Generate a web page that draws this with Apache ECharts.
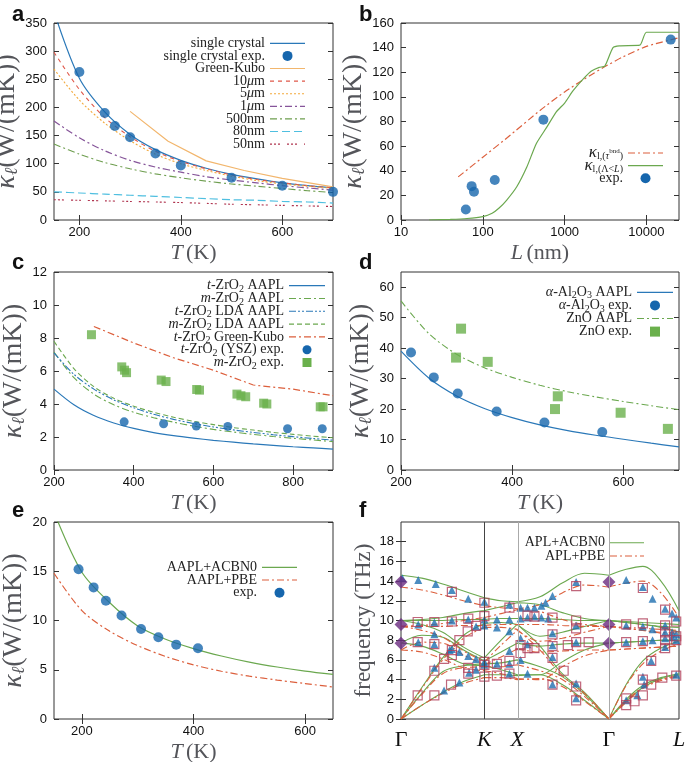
<!DOCTYPE html>
<html><head><meta charset="utf-8">
<script src="https://cdn.jsdelivr.net/npm/echarts@6/dist/echarts.min.js"></script>
<style>html,body{margin:0;padding:0;background:#fff}#c{width:685px;height:762px}</style>
</head><body><div id="c"></div>
<script>
// ---------- Panel a ----------
const aT = [150,200,250,300,350,400,450,500,550,600,650,700];
const aSingle = [370,252,192,152,125,106,92,81,73,66,61,57];
const aUm10  = [298,232,182,148,122,104,91,80,72,66,61,57];
const aUm5   = [268,213,172,141,117,100,88,78,70,64,60,56];
const aUm1   = [176,146,123,106,94,85,77,71,66,61,57,53];
const aNm500 = [135,117,102,91,82,75,69,64,60,56,52,49];
const aNm80  = [50,48,46,44,42,40,38,36,35,33,32,30];
const aNm50  = [36,35,34,33,32,31,29.5,28,27,26,25,24];
const aGkT = [300,375,450,525,600,700];
const aGk  = [193,140,105,88,74,59];
const aExpT = [200,250,270,300,350,400,500,600,700];
const aExp  = [263,190,167,147,118,97,75,61,50];
const aXTicks = [200,400,600];
const aYTicks = [0,50,100,150,200,250,300,350];
// ---------- Panel b ----------
const bGreenL = [22,40,64,100,130,157,195,260,345,450,600,795,1000,1270,1770,2130,2650,3100,3900,4660,8300,10000,25000];
const bGreen  = [0,0.5,1.2,2.8,5.5,9.5,16,27,43,62,75,88,95,105,116,121,124,125,140,141.5,142,152.5,152.5];
const bRedL = [50,100,200,500,1000,2000,3000,5000,10000,25000];
const bRed  = [35,51,67,89,104,117,124,132,141,148];
const bExpL = [62,73,78,140,550,19800];
const bExp  = [8.5,27.5,23,32.5,81.5,146.5];
const bXTicks = [10,100,1000,10000];
const bYTicks = [0,20,40,60,80,100,120,140,160];
// ---------- Panel c ----------
const cT = [200,250,300,350,400,450,500,550,600,650,700,750,800,850,900];
const cTAapl = [4.9,3.95,3.3,2.85,2.52,2.27,2.08,1.93,1.80,1.69,1.58,1.49,1.41,1.34,1.27];
const cMAapl = [7.15,5.6,4.6,3.95,3.5,3.17,2.9,2.66,2.46,2.3,2.16,2.03,1.92,1.82,1.72];
const cTLda  = [7.1,5.8,4.9,4.25,3.77,3.38,3.07,2.82,2.61,2.43,2.28,2.14,2.02,1.91,1.81];
const cMLda  = [7.8,6.15,5.05,4.35,3.87,3.5,3.2,2.95,2.75,2.57,2.42,2.28,2.16,2.05,1.95];
const cGkT = [300,400,500,600,700,800,900];
const cGk  = [8.7,7.7,6.8,6.05,5.15,4.9,4.5];
const cTExpT = [376,475,557,636,786,873];
const cTExp  = [2.92,2.8,2.66,2.64,2.5,2.5];
const cMExpT = [294,370,377,382,469,481,558,565,659,669,681,726,734,868,875];
const cMExp  = [8.2,6.25,6.05,5.9,5.45,5.36,4.88,4.84,4.6,4.5,4.44,4.05,4.0,3.83,3.83];
const cXTicks = [200,400,600,800];
const cYTicks = [0,2,4,6,8,10,12];
// ---------- Panel d ----------
const dT = [200,250,300,350,400,450,500,550,600,650,700];
const dAl = [39,30.2,24.3,20.2,17.2,14.8,12.9,11.4,10.1,8.8,7.6];
const dZn = [55.5,44.8,38,33.6,30.4,27.8,25.7,24,22.5,21.1,19.8];
const dAlExpT = [218,259,302,372,458,562];
const dAlExp  = [38.6,30.4,25.1,19.2,15.6,12.5];
const dZnExpT = [299,308,356,477,482,595,680];
const dZnExp  = [36.9,46.4,35.5,20.0,24.2,18.8,13.5];
const dXTicks = [200,400,600];
const dYTicks = [0,10,20,30,40,50,60];
// ---------- Panel e ----------
const eT = [150,200,250,300,350,400,450,500,550,600,650];
const eAcbn0 = [21,14.9,11.8,9.45,8.1,7.15,6.4,5.78,5.28,4.87,4.53];
const ePbe   = [14.8,11.0,8.9,7.45,6.35,5.5,4.85,4.35,3.95,3.6,3.25];
const eExpT = [194,221,243,271,306,337,369,408];
const eExp  = [15.2,13.36,12.0,10.5,9.14,8.3,7.55,7.18];
const eXTicks = [200,400,600];
const eYTicks = [0,5,10,15,20];
// ---------- Panel f ----------
const fPathPos = [0,0.30,0.418,0.748,1.0];
const fPathLab = ['Γ','K','X','Γ','L'];
const fX = [0,0.075,0.15,0.225,0.30,0.36,0.418,0.5,0.58,0.66,0.748,0.81,0.87,0.935,1.0];
const fAcbn0 = [
 [0,1.4,2.7,3.8,4.5,4.5,4.4,4.5,3.5,1.9,0,1.8,3.2,4.1,4.5],
 [0,2.6,4.8,5.4,5.6,5.7,6.0,5.3,4.3,2.5,0,2.0,3.4,4.2,4.6],
 [0,3.2,6.2,8.5,9.7,9.8,9.6,7.4,4.6,2.7,0,3.5,5.9,7.2,7.9],
 [7.7,7.4,6.6,5.6,5.4,5.0,4.5,4.5,5.8,7.0,7.7,7.8,7.9,8.0,8.0],
 [7.7,8.5,8.3,7.0,5.9,6.8,7.7,7.4,7.6,7.7,7.7,7.8,7.9,8.0,8.0],
 [10.0,9.6,8.8,7.3,6.2,8.0,9.6,8.4,8.8,9.4,10.0,9.8,9.6,9.3,8.8],
 [10.0,10.0,10.0,10.1,10.1,10.2,10.2,10.2,10.1,10.0,10.0,9.8,9.6,9.4,9.3],
 [10.0,10.1,10.3,10.7,11.0,11.4,11.8,11.6,10.8,10.2,10.0,9.9,9.8,9.7,9.6],
 [14.6,14.3,13.7,13.0,12.3,12.0,11.9,12.4,13.8,14.8,14.6,15.2,15.5,14.0,11.0]
];
const fPbe = [
 [0,1.4,2.6,3.6,4.2,4.2,4.0,4.1,3.3,1.8,0,1.7,3.1,3.9,4.3],
 [0,2.5,4.6,5.2,5.3,5.3,5.5,4.9,4.0,2.3,0,1.9,3.2,4.0,4.4],
 [0,3.1,6.0,8.2,9.3,9.3,9.1,7.0,4.4,2.6,0,3.4,5.6,6.9,7.6],
 [7.0,6.8,6.1,5.2,4.9,4.6,4.1,4.0,5.3,6.4,7.0,7.1,7.2,7.3,7.4],
 [7.0,7.8,7.7,6.5,5.5,6.3,7.1,6.8,6.9,7.0,7.0,7.1,7.2,7.3,7.4],
 [9.4,9.0,8.3,6.9,5.8,7.5,9.0,7.9,8.2,8.8,9.4,9.2,9.0,8.7,8.3],
 [9.4,9.4,9.4,9.5,9.5,9.6,9.6,9.6,9.5,9.4,9.4,9.2,9.0,8.8,8.7],
 [9.4,9.5,9.7,10.0,10.3,10.7,11.1,10.9,10.1,9.6,9.4,9.3,9.2,9.1,9.0],
 [13.4,13.1,12.6,12.0,11.5,11.3,11.2,11.6,12.8,13.6,13.4,13.8,14.0,12.8,10.3]
];
const fTri = [[0.005,14.3],[0.062,14.1],[0.125,13.7],[0.183,13.1],[0.242,12.2],[0.30,11.9],
 [0.062,9.6],[0.12,9.8],[0.183,10.0],[0.242,10.1],[0.30,10.1],[0.30,9.5],[0.27,9.4],
 [0.062,7.8],[0.12,8.6],[0.12,7.6],[0.175,7.0],[0.21,6.8],[0.242,6.4],[0.27,6.1],[0.30,5.8],[0.30,5.5],
 [0.12,5.2],[0.183,7.1],[0.27,5.0],[0.245,4.7],[0.155,2.9],[0.21,3.7],
 [0.345,10.1],[0.345,9.3],[0.345,5.6],[0.39,11.6],[0.39,10.1],[0.39,8.9],[0.39,6.9],[0.39,5.6],[0.39,4.6],
 [0.43,11.3],[0.455,11.3],[0.48,11.3],[0.505,11.5],[0.52,11.8],[0.43,10.2],[0.455,10.3],[0.48,10.4],[0.505,10.3],[0.53,10.2],
 [0.43,8.2],[0.43,6.0],[0.455,7.6],[0.455,4.6],[0.545,12.5],[0.545,8.7],[0.545,7.5],[0.545,6.3],[0.545,3.5],
 [0.63,3.6],[0.63,2.1],[0.63,9.5],[0.63,7.8],[0.63,13.9],
 [0.81,14.1],[0.87,13.4],[0.905,12.2],[0.81,9.5],[0.87,9.4],[0.905,9.1],[0.81,7.8],[0.87,7.9],[0.905,8.0],
 [0.81,1.9],[0.85,2.4],[0.87,4.3],[0.9,5.9],[0.875,3.5],[0.95,11.2],[0.975,10.7],[0.99,10.3],[0.95,9.5],
 [0.95,8.8],[0.975,8.8],[0.99,8.6],[0.95,8.2],[0.975,8.3],[0.99,8.0],[0.95,7.3],[0.99,4.5]];
const fSq = [[0.06,2.4],[0.12,4.9],[0.155,6.1],[0.183,7.0],[0.21,8.0],[0.24,8.9],[0.27,9.45],[0.30,10.45],
 [0.06,9.85],[0.12,9.85],[0.183,9.9],[0.242,10.2],[0.06,7.8],[0.12,7.6],[0.183,6.5],[0.242,5.2],[0.242,4.6],
 [0.30,5.5],[0.30,5.8],[0.30,4.3],[0.12,2.4],[0.18,3.5],[0.183,12.9],[0.30,11.8],
 [0.345,5.6],[0.345,4.4],[0.39,11.3],[0.39,5.9],[0.39,4.6],
 [0.43,7.5],[0.43,6.7],[0.455,7.2],[0.455,10.5],[0.48,7.2],[0.48,10.4],[0.545,10.3],[0.545,8.6],[0.545,7.4],
 [0.545,6.2],[0.545,3.5],[0.585,4.9],[0.6,7.5],[0.63,13.5],[0.63,10.0],[0.63,9.2],[0.63,7.8],[0.63,3.3],[0.63,1.9],[0.675,7.8],
 [0.81,9.6],[0.87,9.7],[0.81,7.8],[0.87,7.9],[0.87,13.3],[0.81,2.1],[0.81,1.4],[0.84,1.8],[0.87,2.4],[0.87,4.0],
 [0.9,3.5],[0.9,5.9],[0.94,4.2],[0.95,7.2],[0.95,8.0],[0.95,8.8],[0.95,9.5],[0.95,11.1],[0.99,8.0],[0.99,8.4],[0.99,9.9],[0.99,4.4]];
const fDia = [[0,13.9],[0,9.6],[0,7.7],[0.748,13.9],[0.748,9.6],[0.748,7.7]];
const fYTicks = [0,2,4,6,8,10,12,14,16,18];

// ---------- styling / layout ----------
const SERIF = '"Liberation Serif","DejaVu Serif",serif';
const SANS = '"Liberation Sans",Arial,Helvetica,sans-serif';
const BLUE='#2a78b8', BLUED='#1666ad', GREEN='#6ba84f', RED='#dc5f3c', SQG='#6ab04c';
const grids = [
 {left:54, top:23, width:279, height:197},
 {left:401, top:23, width:278, height:197},
 {left:54, top:272, width:279, height:198},
 {left:401, top:272, width:278, height:198},
 {left:54, top:522, width:279, height:197},
 {left:401, top:522, width:278, height:197}
].map(g=>Object.assign({show:true, borderColor:'#333', borderWidth:1, backgroundColor:'transparent', containLabel:false, outerBoundsMode:'none'}, g));

const NAMERICH = {
 k:{fontFamily:SERIF, fontSize:28, fontStyle:'italic'},
 l:{fontFamily:SERIF, fontSize:18, fontStyle:'italic', padding:[11,0,0,0]},
 n:{fontFamily:SERIF, fontSize:28},
 i:{fontFamily:SERIF, fontSize:22, fontStyle:'italic'},
 r:{fontFamily:SERIF, fontSize:22},
 fq:{fontFamily:SERIF, fontSize:23}
};
const KNAME = '{k|κ}{l|ℓ}{n|(W/(mK))}';

const xAxes=[], yAxes=[];
function addAxes(gi, xo, yo){
 const tick = {inside:true, length:5, lineStyle:{color:'#333', width:1}};
 const lab = {color:'#111', fontFamily:SANS, fontSize:13};
 const xb = Object.assign({gridIndex:gi, position:'bottom', splitLine:{show:false}, axisLine:{show:false},
   axisTick:Object.assign({}, tick, {customValues:xo.ticks, show:xo.showTick!==false}),
   axisLabel:Object.assign({}, lab, {customValues:xo.ticks, margin:6}, xo.label||{}),
   nameLocation:'middle', nameGap:xo.nameGap||22, nameTextStyle:{rich:NAMERICH}}, xo.base);
 const xt = Object.assign({}, xb, {position:'top', axisLabel:{show:false}, name:'', axisTick:Object.assign({}, tick, {customValues:xo.ticks, show:xo.showTick!==false})});
 xAxes.push(xb, xt);
 const yb = Object.assign({gridIndex:gi, position:'left', splitLine:{show:false}, axisLine:{show:false},
   axisTick:Object.assign({}, tick, {customValues:yo.ticks}),
   axisLabel:Object.assign({}, lab, {customValues:yo.ticks, margin:7}),
   nameLocation:'middle', nameGap:yo.nameGap||24, nameRotate:90, nameTextStyle:{rich:NAMERICH}}, yo.base);
 const yt = Object.assign({}, yb, {position:'right', axisLabel:{show:false}, name:''});
 yAxes.push(yb, yt);
}
addAxes(0, {ticks:aXTicks, base:{type:'value', min:150, max:700, name:'{i|T} {r|(K)}'}}, {ticks:aYTicks, base:{type:'value', min:0, max:350, name:KNAME}, nameGap:24});
addAxes(1, {ticks:bXTicks, base:{type:'log', logBase:10, min:10, max:25000, name:'{i|L} {r|(nm)}'}, label:{formatter:v=>String(Math.round(v))}}, {ticks:bYTicks, base:{type:'value', min:0, max:160, name:KNAME}, nameGap:24});
addAxes(2, {ticks:cXTicks, base:{type:'value', min:200, max:900, name:'{i|T} {r|(K)}'}}, {ticks:cYTicks, base:{type:'value', min:0, max:12, name:KNAME}, nameGap:23});
addAxes(3, {ticks:dXTicks, base:{type:'value', min:200, max:700, name:'{i|T} {r|(K)}'}}, {ticks:dYTicks, base:{type:'value', min:0, max:65, name:KNAME}, nameGap:23});
addAxes(4, {ticks:eXTicks, base:{type:'value', min:150, max:650, name:'{i|T} {r|(K)}'}}, {ticks:eYTicks, base:{type:'value', min:0, max:20, name:KNAME}, nameGap:23});
addAxes(5, {ticks:fPathPos, showTick:false, base:{type:'value', min:0, max:1},
   label:{margin:10, formatter:v=>{const i=fPathPos.findIndex(p=>Math.abs(p-v)<1e-6); const t=fPathLab[i]||''; return t==='Γ'?'{g|Γ}':'{it|'+t+'}';},
     rich:{g:{fontFamily:SERIF, fontSize:22, color:'#111'}, it:{fontFamily:SERIF, fontSize:22, fontStyle:'italic', color:'#111'}}}},
   {ticks:fYTicks, base:{type:'value', min:0, max:20, name:'{fq|frequency (THz)}'}, nameGap:25});

const series=[];
const KEY = {};
function zip(xs, ys){ return xs.map((x,i)=>[x, ys[i]]); }
function line(name, p, xs, ys, color, type, width, smooth){
 KEY[name] = {kind:'line', color, dash: Array.isArray(type)?type:null, width:width||1.2};
 series.push({name, type:'line', xAxisIndex:2*p, yAxisIndex:2*p, data:zip(xs,ys), symbol:'none', showSymbol:false,
   smooth: smooth===undefined?0.3:smooth, clip:true,
   lineStyle:{color, width:width||1.2, type:type||'solid'}, itemStyle:{color}, z:2});
}
function scat(name, p, data, symbol, size, color, hollow){
 KEY[name] = {kind:symbol, color, size};
 series.push({name, type:'scatter', xAxisIndex:2*p, yAxisIndex:2*p, data, symbol, symbolSize:size,
   itemStyle: hollow ? {color:'rgba(255,255,255,0)', borderColor:color, borderWidth:1.2} : {color}, z:4});
}
const DD=[7,3,2,3], DDD=[7,2,2,2,2,2];
// a
line('a_sc',0,aT,aSingle,BLUE,'solid',1.2);
line('a_gk',0,aGkT,aGk,'#f2b66d','solid',1.2,false);
line('a_10',0,aT,aUm10,'#e0584a',[4,4],1.1);
line('a_5',0,aT,aUm5,'#f3a93b',[2,2],1.1);
line('a_1',0,aT,aUm1,'#86559a',DD,1.2);
line('a_500',0,aT,aNm500,'#6e9e4f',DD,1.1);
line('a_80',0,aT,aNm80,'#4fbfe0',[8,4],1.2);
line('a_50',0,aT,aNm50,'#b0344f',[2,2,2,2,2,7],1.1);
scat('a_scexp',0,zip(aExpT,aExp),'circle',10,BLUED);
// b
line('b_tau',1,bRedL,bRed,RED,DD,1.2,0.2);
line('b_lam',1,bGreenL,bGreen,GREEN,'solid',1.2,0.2);
scat('b_exp',1,zip(bExpL,bExp),'circle',10,BLUED);
// c
line('c_t',2,cT,cTAapl,BLUE,'solid',1.2);
line('c_m',2,cT,cMAapl,GREEN,DD,1.1);
line('c_tl',2,cT,cTLda,BLUE,DDD,1.1);
line('c_ml',2,cT,cMLda,GREEN,[5,3],1.1);
line('c_gk',2,cGkT,cGk,RED,DD,1.2,false);
scat('c_texp',2,zip(cTExpT,cTExp),'circle',9,BLUED);
scat('c_mexp',2,zip(cMExpT,cMExp),'rect',9,SQG);
// d
line('d_al',3,dT,dAl,BLUE,'solid',1.2);
scat('d_alexp',3,zip(dAlExpT,dAlExp),'circle',10,BLUED);
line('d_zn',3,dT,dZn,GREEN,DD,1.1);
scat('d_znexp',3,zip(dZnExpT,dZnExp),'rect',10,SQG);
// e
line('e_acbn0',4,eT,eAcbn0,GREEN,'solid',1.2);
line('e_pbe',4,eT,ePbe,RED,DD,1.2);
scat('e_exp',4,zip(eExpT,eExp),'circle',10,BLUED);
// f
const fBreaks=[4,6,10];
function bandData(vals){ const out=[]; for(let i=0;i<fX.length;i++){ out.push([fX[i],vals[i]]); if(fBreaks.includes(i)){ out.push([fX[i],'-']); out.push([fX[i],vals[i]]); } } return out; }
KEY.f_acbn0 = {kind:'line', color:GREEN, dash:null, width:1.1};
KEY.f_pbe = {kind:'line', color:RED, dash:DD, width:1.1};
fAcbn0.forEach((b,k)=>{ series.push({name:'f_acbn0', type:'line', xAxisIndex:10, yAxisIndex:10, data:bandData(b), symbol:'none', showSymbol:false, smooth:0.35, connectNulls:false, lineStyle:{color:GREEN, width:1.1}, itemStyle:{color:GREEN}, z:2,
  markLine: k===0 ? {silent:true, symbol:'none', label:{show:false}, animation:false,
    data:[{xAxis:fPathPos[1], lineStyle:{color:'#444', width:1, type:'solid'}},{xAxis:fPathPos[2], lineStyle:{color:'#aaa', width:1, type:'solid'}},{xAxis:fPathPos[3], lineStyle:{color:'#aaa', width:1, type:'solid'}}]} : undefined}); });
fPbe.forEach(b=>{ series.push({name:'f_pbe', type:'line', xAxisIndex:10, yAxisIndex:10, data:bandData(b), symbol:'none', showSymbol:false, smooth:0.35, connectNulls:false, lineStyle:{color:RED, width:1.1, type:DD}, itemStyle:{color:RED}, z:2}); });
scat('f_tri',5,fTri,'triangle',8,'#1f6fb0');
scat('f_sq',5,fSq,'rect',9,'#b0405a',true);
scat('f_dia',5,fDia,'diamond',13,'#6a2a80');

// ---------- keys (legends) drawn as graphic ----------
const LAB = {
 a_sc:'single crystal', a_scexp:'single crystal exp.', a_gk:'Green-Kubo', a_10:'10{i|μ}m', a_5:'5{i|μ}m', a_1:'1{i|μ}m', a_500:'500nm', a_80:'80nm', a_50:'50nm',
 b_tau:'{k|κ}{s|l,(}{si|τ}{p|bnd}{s|)}', b_lam:'{k|κ}{s|l,(Λ<}{si|L}{s|)}', b_exp:'exp.',
 c_t:'{i|t}-ZrO{s|2} AAPL', c_m:'{i|m}-ZrO{s|2} AAPL', c_tl:'{i|t}-ZrO{s|2} LDA AAPL', c_ml:'{i|m}-ZrO{s|2} LDA AAPL', c_gk:'{i|t}-ZrO{s|2} Green-Kubo', c_texp:'{i|t}-ZrO{s|2} (YSZ) exp.', c_mexp:'{i|m}-ZrO{s|2} exp.',
 d_al:'{i|α}-Al{s|2}O{s|3} AAPL', d_alexp:'{i|α}-Al{s|2}O{s|3} exp.', d_zn:'ZnO AAPL', d_znexp:'ZnO exp.',
 e_acbn0:'AAPL+ACBN0', e_pbe:'AAPL+PBE', e_exp:'exp.',
 f_acbn0:'APL+ACBN0', f_pbe:'APL+PBE'
};
const RICH = {
 i:{fontStyle:'italic', fontFamily:SERIF, fontSize:14},
 k:{fontStyle:'italic', fontFamily:SERIF, fontSize:17},
 s:{fontFamily:SERIF, fontSize:10, padding:[7,0,0,0]},
 si:{fontFamily:SERIF, fontSize:10, fontStyle:'italic', padding:[7,0,0,0]},
 p:{fontFamily:SERIF, fontSize:7, padding:[0,0,4,0]}
};
const gfx = [];
function key(names, x1, x2, y0, dy){
 names.forEach((n,k)=>{
  const y = y0 + k*dy, st = KEY[n];
  gfx.push({type:'text', x:x1-5, y, silent:true, style:{text:LAB[n], rich:RICH, fontFamily:SERIF, fontSize:14, fill:'#222', align:'right', verticalAlign:'middle'}});
  if(st.kind==='line'){
   gfx.push({type:'line', silent:true, shape:{x1, y1:y, x2, y2:y}, style:{stroke:st.color, lineWidth:st.width, lineDash:st.dash||null}});
  } else if(st.kind==='circle'){
   gfx.push({type:'circle', silent:true, shape:{cx:(x1+x2)/2, cy:y, r:st.size/2}, style:{fill:st.color}});
  } else {
   gfx.push({type:'rect', silent:true, shape:{x:(x1+x2)/2-st.size/2, y:y-st.size/2, width:st.size, height:st.size}, style:{fill:st.color}});
  }
 });
}
key(['a_sc','a_scexp','a_gk','a_10','a_5','a_1','a_500','a_80','a_50'], 270, 305, 43.3, 12.6);
key(['b_tau','b_lam','b_exp'], 628, 663, 153, 12.6);
key(['c_t','c_m','c_tl','c_ml','c_gk','c_texp','c_mexp'], 289, 325, 285.7, 12.8);
key(['d_al','d_alexp','d_zn','d_znexp'], 637, 673, 292.3, 13.1);
key(['e_acbn0','e_pbe','e_exp'], 262, 297, 567.3, 12.7);
key(['f_acbn0','f_pbe'], 610, 644, 542.7, 13.3);
[['a',12,4],['b',359,4],['c',12,252],['d',359,252],['e',12,500],['f',359,500]].forEach(([t,x,y])=>gfx.push({type:'text', left:x, top:y, style:{text:t, font:'bold 22px '+SANS, fill:'#111'}}));

const chart = echarts.init(document.getElementById('c'), null, {renderer:'canvas'});
chart.setOption({animation:false, backgroundColor:'#fff', grid:grids, xAxis:xAxes, yAxis:yAxes, series, graphic:{elements:gfx}});
</script></body></html>
